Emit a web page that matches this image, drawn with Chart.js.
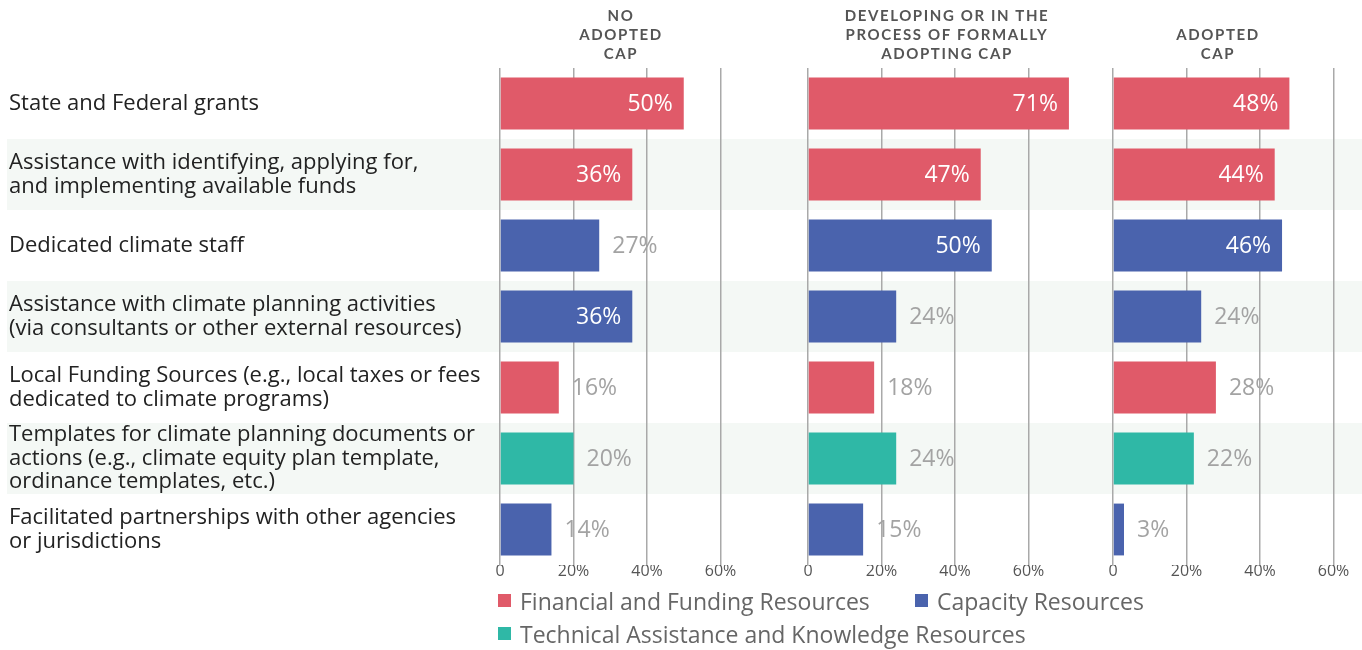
<!DOCTYPE html>
<html>
<head>
<meta charset="utf-8">
<script src="https://cdn.jsdelivr.net/npm/chart.js@4.4.1/dist/chart.umd.min.js"></script>
<style>
  body { margin: 0; background: #fff; }
  #wrap { position: relative; width: 1362px; height: 650px; overflow: hidden; }
  #wrap canvas { position: absolute; top: 0; }
  #legend { position: absolute; left: 498px; top: 584px; width: 680px; display: flex; flex-wrap: wrap;
            font-family: "Open Sans", sans-serif; font-size: 23px; color: #666; }
  .item { display: flex; align-items: center; height: 33px; }
  .item:first-child { width: 417px; }
  .swatch { width: 13px; height: 13px; margin-right: 9px; }
</style>
</head>
<body>
<div id="wrap">
  <canvas id="noCap" width="785" height="587" style="left:0"></canvas>
  <canvas id="developingCap" width="310" height="587" style="left:785px"></canvas>
  <canvas id="adoptedCap" width="267" height="587" style="left:1095px"></canvas>
  <div id="legend"></div>
</div>
<script>
// Rows, resource type of each row, and the share of respondents per CAP status
const rowLabels = [
  'State and Federal grants',
  ['Assistance with identifying, applying for,', 'and implementing available funds'],
  'Dedicated climate staff',
  ['Assistance with climate planning activities', '(via consultants or other external resources)'],
  ['Local Funding Sources (e.g., local taxes or fees', 'dedicated to climate programs)'],
  ['Templates for climate planning documents or', 'actions (e.g., climate equity plan template,', 'ordinance templates, etc.)'],
  ['Facilitated partnerships with other agencies', 'or jurisdictions']
];
const rowType = ['financial', 'financial', 'capacity', 'capacity', 'financial', 'technical', 'capacity'];

const noCapValues = [50, 36, 27, 36, 16, 20, 14];
const developingCapValues = [71, 47, 50, 24, 18, 24, 15];
const adoptedCapValues = [48, 44, 46, 24, 28, 22, 3];

const resourceTypes = [
  { key: 'financial', label: 'Financial and Funding Resources', color: '#e05a69' },
  { key: 'capacity', label: 'Capacity Resources', color: '#4a63ad' },
  { key: 'technical', label: 'Technical Assistance and Knowledge Resources', color: '#2fb8a6' }
];

const FONT = '"Open Sans", "Noto Sans", sans-serif';
const PX_PER_PCT = 3.675;

// light green bands behind every other row
const rowBands = {
  id: 'rowBands',
  beforeDraw(chart, args, opts) {
    const y = chart.scales.y;
    const step = y.getPixelForValue(1) - y.getPixelForValue(0);
    const ctx = chart.ctx;
    ctx.save();
    ctx.fillStyle = '#f4f8f5';
    for (let i = 1; i < rowLabels.length; i += 2) {
      const c = y.getPixelForValue(i);
      ctx.fillRect(opts.startX || 0, c - step / 2, chart.width, step);
    }
    ctx.restore();
  }
};

// percentage labels: white inside long bars, grey after short ones
const valueLabels = {
  id: 'valueLabels',
  afterDatasetsDraw(chart) {
    const ctx = chart.ctx;
    ctx.save();
    ctx.font = '23px ' + FONT;
    ctx.textBaseline = 'middle';
    chart.data.datasets.forEach((ds, di) => {
      chart.getDatasetMeta(di).data.forEach((bar, i) => {
        const v = ds.data[i];
        if (v == null) return;
        if (v >= 30) {
          ctx.fillStyle = '#fff';
          ctx.textAlign = 'right';
          ctx.fillText(v + '%', bar.x - 11, bar.y + 1);
        } else {
          ctx.fillStyle = '#a3a3a3';
          ctx.textAlign = 'left';
          ctx.fillText(v + '%', bar.x + 13, bar.y + 1);
        }
      });
    });
    ctx.restore();
  }
};

// stacked uppercase heading above each panel, bottom-aligned
const panelTitle = {
  id: 'panelTitle',
  afterDraw(chart, args, opts) {
    const ctx = chart.ctx;
    ctx.save();
    ctx.font = 'bold 15px Lato, sans-serif';
    ctx.letterSpacing = '1.6px';
    ctx.fillStyle = '#555';
    ctx.textAlign = 'center';
    ctx.textBaseline = 'middle';
    const x = chart.chartArea.left + opts.offset;
    const n = opts.lines.length;
    opts.lines.forEach((line, i) => {
      ctx.fillText(line, x, 54 - (n - 1 - i) * 19);
    });
    ctx.restore();
  }
};

function makeDatasets(values) {
  return resourceTypes.map(t => ({
    label: t.label,
    backgroundColor: t.color,
    data: values.map((v, i) => rowType[i] === t.key ? v : null),
    barPercentage: 0.73,
    categoryPercentage: 1
  }));
}

function makePanel(id, values, opt) {
  const yAxis = opt.showLabels ? {
    stacked: true,
    grid: { display: false },
    border: { display: false },
    afterFit: s => { s.width = 491; },
    ticks: {
      autoSkip: false,
      crossAlign: 'far',
      color: '#222',
      font: { family: FONT, size: 22, lineHeight: 1.07 }
    }
  } : { stacked: true, display: false };

  return new Chart(document.getElementById(id), {
    type: 'bar',
    data: { labels: rowLabels, datasets: makeDatasets(values) },
    options: {
      indexAxis: 'y',
      responsive: false,
      animation: false,
      devicePixelRatio: 1,
      layout: { padding: { left: opt.padLeft, right: opt.padRight, top: 68, bottom: 0 } },
      scales: {
        x: {
          stacked: true,
          min: 0,
          max: opt.max,
          grid: { color: '#a9a9a9', lineWidth: 1.5, drawTicks: false },
          border: { display: false },
          afterFit: s => { s.height = 22; },
          ticks: {
            stepSize: 20,
            includeBounds: false,
            padding: -3,
            color: '#555',
            font: { family: FONT, size: 16 },
            callback: v => v === 0 ? '0' : v + '%'
          }
        },
        y: yAxis
      },
      plugins: {
        legend: { display: false },
        tooltip: { enabled: false },
        rowBands: { startX: opt.bandStart || 0 },
        panelTitle: { lines: opt.title, offset: opt.titleOffset }
      }
    },
    plugins: [rowBands, valueLabels, panelTitle]
  });
}

// panel widths follow one common scale: PX_PER_PCT pixels per percentage point
const noCapChart = makePanel('noCap', noCapValues, {
  showLabels: true, max: 70, padLeft: 9, padRight: 785 - (500 + 70 * PX_PER_PCT),
  bandStart: 7, title: ['NO', 'ADOPTED', 'CAP'], titleOffset: 121
});
makePanel('developingCap', developingCapValues, {
  max: 75, padLeft: 23, padRight: 310 - (23 + 75 * PX_PER_PCT),
  title: ['DEVELOPING OR IN THE', 'PROCESS OF FORMALLY', 'ADOPTING CAP'], titleOffset: 139
});
makePanel('adoptedCap', adoptedCapValues, {
  max: 65, padLeft: 18, padRight: 267 - (18 + 65 * PX_PER_PCT),
  title: ['ADOPTED', 'CAP'], titleOffset: 105
});

// legend built from the first panel's datasets
const legend = document.getElementById('legend');
noCapChart.data.datasets.forEach(ds => {
  const item = document.createElement('div');
  item.className = 'item';
  item.innerHTML = '<span class="swatch" style="background:' + ds.backgroundColor + '"></span>' + ds.label;
  legend.appendChild(item);
});
</script>
</body>
</html>
